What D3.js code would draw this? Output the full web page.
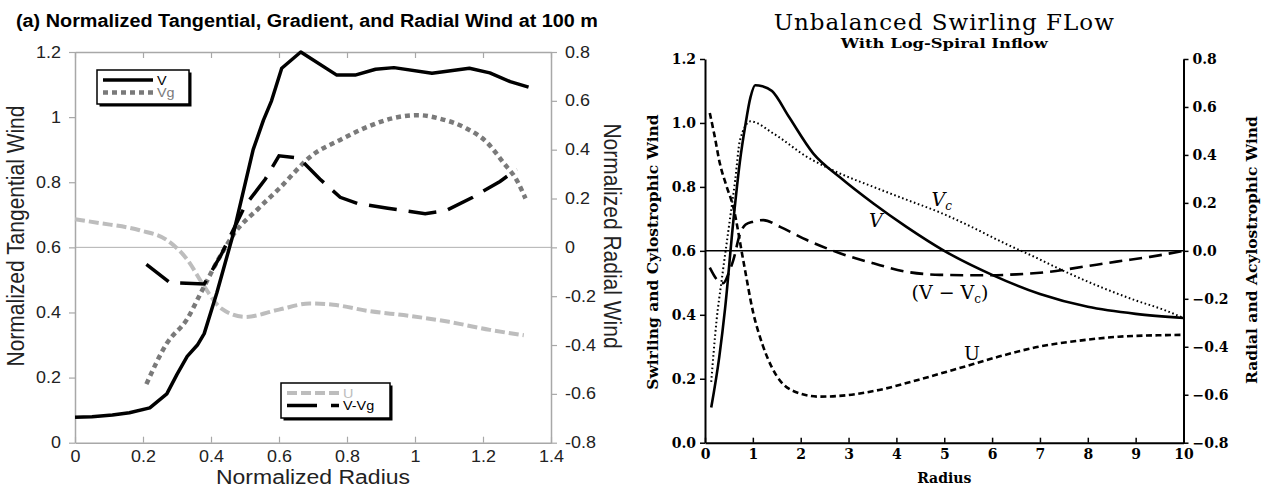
<!DOCTYPE html>
<html>
<head>
<meta charset="utf-8">
<script src="https://cdn.jsdelivr.net/npm/d3@7"></script>
<style>
  body { margin: 0; background: #fff; }
  svg { display: block; }
</style>
</head>
<body>
<svg id="chart" width="1265" height="489"></svg>
<script>
// ---- left panel data (x = normalized radius) ----
var leftV = [[0,0.078],[0.05,0.08],[0.11,0.085],[0.16,0.092],[0.22,0.107],[0.27,0.15],[0.3,0.21],[0.33,0.265],[0.36,0.3],[0.38,0.335],[0.417,0.46],[0.466,0.643],[0.524,0.9],[0.554,0.99],[0.578,1.05],[0.608,1.15],[0.664,1.2],[0.77,1.129],[0.824,1.129],[0.884,1.147],[0.938,1.152],[1.05,1.135],[1.16,1.15],[1.22,1.136],[1.28,1.109],[1.334,1.092]];
var leftVg = [[0.21,0.18],[0.27,0.305],[0.33,0.38],[0.37,0.46],[0.42,0.56],[0.47,0.645],[0.54,0.72],[0.6,0.78],[0.7,0.885],[0.78,0.93],[0.86,0.97],[0.94,0.998],[1.01,1.006],[1.07,0.996],[1.15,0.966],[1.21,0.924],[1.26,0.86],[1.3,0.805],[1.325,0.75]];
var leftU = [[0,0.115],[0.07,0.1],[0.19,0.07],[0.27,0.03],[0.33,-0.05],[0.38,-0.16],[0.43,-0.25],[0.5,-0.285],[0.6,-0.255],[0.69,-0.23],[0.76,-0.235],[0.86,-0.26],[0.98,-0.28],[1.1,-0.305],[1.22,-0.338],[1.32,-0.36]];
var leftVVg = [[0.21,-0.07],[0.28,-0.145],[0.38,-0.15],[0.43,-0.03],[0.5,0.17],[0.56,0.28],[0.6,0.375],[0.66,0.365],[0.72,0.28],[0.78,0.205],[0.83,0.18],[0.92,0.16],[1.03,0.138],[1.09,0.15],[1.17,0.205],[1.25,0.27],[1.3,0.32]];

var leftXTicks = [0,0.2,0.4,0.6,0.8,1,1.2,1.4];
var leftYTicks = [0,0.2,0.4,0.6,0.8,1,1.2];
var leftY2Ticks = [-0.8,-0.6,-0.4,-0.2,0,0.2,0.4,0.6,0.8];

// ---- right panel data (x = radius) ----
var rightV = [[0.13,0.11],[0.3,0.27],[0.42,0.42],[0.59,0.69],[0.73,0.88],[0.84,0.99],[0.95,1.08],[1.05,1.118],[1.2,1.115],[1.4,1.1],[1.75,1.02],[2.26,0.905],[2.82,0.83],[3.52,0.748],[4.21,0.675],[5.0,0.6],[6.0,0.525],[7.0,0.465],[8.0,0.425],[9.0,0.403],[10,0.39]];
var rightVc = [[0.13,0.19],[0.24,0.38],[0.35,0.51],[0.49,0.665],[0.63,0.82],[0.73,0.945],[0.95,1.005],[1.43,0.967],[2.13,0.894],[2.82,0.842],[3.52,0.8],[4.21,0.76],[4.91,0.72],[5.5,0.68],[6.2,0.628],[6.9,0.58],[7.6,0.53],[8.3,0.485],[9.0,0.445],[9.6,0.415],[10,0.39]];
var rightU = [[0.1,0.575],[0.2,0.48],[0.31,0.365],[0.45,0.27],[0.59,0.184],[0.8,-0.04],[1.01,-0.26],[1.2,-0.39],[1.39,-0.483],[1.8,-0.58],[2.39,-0.608],[2.8,-0.605],[3.64,-0.58],[4.47,-0.537],[5.3,-0.49],[6.14,-0.441],[6.97,-0.4],[7.8,-0.375],[8.64,-0.358],[9.47,-0.352],[10,-0.35]];
var rightVVc = [[0.1,-0.07],[0.25,-0.12],[0.38,-0.135],[0.5,-0.09],[0.59,-0.04],[0.73,0.07],[0.85,0.11],[1.01,0.122],[1.22,0.128],[1.57,0.1],[2.13,0.045],[2.82,-0.01],[3.52,-0.052],[4.21,-0.087],[4.91,-0.1],[5.82,-0.102],[6.51,-0.098],[7.21,-0.087],[7.91,-0.066],[8.6,-0.045],[9.3,-0.025],[10,0]];

var rightXTicks = [0,1,2,3,4,5,6,7,8,9,10];
var rightYTicks = [0,0.2,0.4,0.6,0.8,1.0,1.2];
var rightY2Ticks = [-0.8,-0.6,-0.4,-0.2,0,0.2,0.4,0.6,0.8];

var svg = d3.select("#chart");

// widen a text horizontally (the scanned figure is a bit stretched)
function stretch(sel, k) {
    sel.each(function() {
        var w = this.getComputedTextLength();
        if (w > 0) d3.select(this).attr("textLength", w * k).attr("lengthAdjust", "spacingAndGlyphs");
    });
}

// ================= left panel =================
(function() {
    var sans = "'Liberation Sans', Arial, sans-serif";
    var frame = "#a8a8a8";
    var x = d3.scaleLinear().domain([0, 1.4]).range([75, 551]);
    var y = d3.scaleLinear().domain([0, 1.2]).range([442.7, 52]);
    var y2 = d3.scaleLinear().domain([-0.8, 0.8]).range([442.7, 52]);
    var g = svg.append("g");
    var fmt = function(d) { return String(Math.round(d * 10) / 10); };

    g.append("text").attr("x", 16).attr("y", 27)
        .attr("font-family", sans).attr("font-weight", "bold").attr("font-size", 18)
        .attr("textLength", 582).attr("lengthAdjust", "spacingAndGlyphs")
        .text("(a) Normalized Tangential, Gradient, and Radial Wind at 100 m");

    // zero line of the radial axis
    g.append("line").attr("x1", x(0)).attr("x2", x(1.4))
        .attr("y1", y2(0)).attr("y2", y2(0)).attr("stroke", "#b0b0b0").attr("stroke-width", 1);

    var styleAxis = function(sel) {
        sel.select(".domain").attr("stroke", frame).attr("stroke-width", 1.5);
        sel.selectAll(".tick line").attr("stroke", frame).attr("stroke-width", 1.2);
        sel.selectAll("text").attr("font-family", sans).attr("font-size", 16).attr("fill", "#222")
            .call(stretch, 1.12);
    };

    g.append("g").attr("transform", "translate(0," + y(0) + ")")
        .call(d3.axisBottom(x).tickValues(leftXTicks).tickFormat(fmt).tickSizeInner(-6).tickSizeOuter(0).tickPadding(8))
        .call(styleAxis);
    g.append("g").attr("transform", "translate(0," + y(1.2) + ")")
        .call(d3.axisTop(x).tickValues(leftXTicks).tickFormat("").tickSizeInner(-6).tickSizeOuter(0))
        .call(styleAxis);
    g.append("g").attr("transform", "translate(" + x(0) + ",0)")
        .call(d3.axisLeft(y).tickValues(leftYTicks).tickFormat(fmt).tickSizeInner(6).tickSizeOuter(0).tickPadding(8))
        .call(styleAxis);
    g.append("g").attr("transform", "translate(" + x(1.4) + ",0)")
        .call(d3.axisRight(y2).tickValues(leftY2Ticks).tickFormat(fmt).tickSizeInner(6).tickSizeOuter(0).tickPadding(8))
        .call(styleAxis);

    g.append("text").attr("x", (x(0) + x(1.4)) / 2).attr("y", 484)
        .attr("text-anchor", "middle").attr("font-family", sans).attr("font-size", 20).attr("fill", "#222")
        .attr("textLength", 194).attr("lengthAdjust", "spacingAndGlyphs")
        .text("Normalized Radius");
    g.append("text").attr("transform", "translate(24,236) scale(1.1,1) rotate(-90)")
        .attr("text-anchor", "middle").attr("font-family", sans).attr("font-size", 21).attr("fill", "#222")
        .text("Normalized Tangential Wind");
    g.append("text").attr("transform", "translate(604,236) scale(1.1,1) rotate(90)")
        .attr("text-anchor", "middle").attr("font-family", sans).attr("font-size", 21).attr("fill", "#222")
        .text("Normalized Radial Wind");

    var lineL = d3.line().x(function(d) { return x(d[0]); }).y(function(d) { return y(d[1]); });
    var lineR = d3.line().x(function(d) { return x(d[0]); }).y(function(d) { return y2(d[1]); });

    g.append("path").datum(leftU).attr("d", lineR.curve(d3.curveMonotoneX))
        .attr("fill", "none").attr("stroke", "#bdbdbd").attr("stroke-width", 4).attr("stroke-dasharray", "10 4");
    g.append("path").datum(leftVg).attr("d", lineL.curve(d3.curveMonotoneX))
        .attr("fill", "none").attr("stroke", "#7a7a7a").attr("stroke-width", 4.5).attr("stroke-dasharray", "5 4");
    g.append("path").datum(leftVVg).attr("d", lineR.curve(d3.curveLinear))
        .attr("fill", "none").attr("stroke", "#000").attr("stroke-width", 3.5).attr("stroke-dasharray", "28 12");
    g.append("path").datum(leftV).attr("d", lineL.curve(d3.curveLinear))
        .attr("fill", "none").attr("stroke", "#000").attr("stroke-width", 3.5).attr("stroke-linejoin", "round");

    // legends with drop shadow
    var legend = function(bx, by, bw, bh, items) {
        g.append("rect").attr("x", bx + 2.5).attr("y", by + 2.5).attr("width", bw).attr("height", bh).attr("fill", "#000");
        g.append("rect").attr("x", bx).attr("y", by).attr("width", bw).attr("height", bh)
            .attr("fill", "#fff").attr("stroke", "#000").attr("stroke-width", 1.5);
        items.forEach(function(it, i) {
            var ly = by + 10 + i * 12.5;
            g.append("line").attr("x1", bx + 6).attr("x2", bx + 6 + it.len).attr("y1", ly).attr("y2", ly)
                .attr("stroke", it.color).attr("stroke-width", it.w).attr("stroke-dasharray", it.dash);
            g.append("text").attr("x", bx + 6 + it.len + 4).attr("y", ly + 4.5)
                .attr("font-family", sans).attr("font-size", 12.5).attr("fill", it.text)
                .text(it.label).call(stretch, 1.15);
        });
    };
    legend(97, 70, 92, 34, [
        {label: "V", color: "#000", text: "#000", w: 3.5, dash: null, len: 50},
        {label: "Vg", color: "#7a7a7a", text: "#7a7a7a", w: 4.5, dash: "5 4", len: 50}
    ]);
    legend(281, 383, 109, 35, [
        {label: "U", color: "#bdbdbd", text: "#bdbdbd", w: 4, dash: "10 4", len: 52},
        {label: "V-Vg", color: "#000", text: "#000", w: 3.5, dash: "30 14", len: 52}
    ]);
})();

// ================= right panel =================
(function() {
    var serif = "'DejaVu Serif', 'Liberation Serif', serif";
    var x = d3.scaleLinear().domain([0, 10]).range([705, 1183.5]);
    var y = d3.scaleLinear().domain([0, 1.2]).range([442.7, 59]);
    var y2 = d3.scaleLinear().domain([-0.8, 0.8]).range([442.7, 59]);
    var g = svg.append("g");
    var fmt = d3.format(".1f");

    g.append("text").attr("x", (x(0) + x(10)) / 2).attr("y", 30)
        .attr("text-anchor", "middle").attr("font-family", serif).attr("font-size", 23).attr("letter-spacing", 1)
        .text("Unbalanced Swirling FLow");
    g.append("text").attr("x", (x(0) + x(10)) / 2).attr("y", 48)
        .attr("text-anchor", "middle").attr("font-family", serif).attr("font-weight", "bold").attr("font-size", 13.5)
        .attr("textLength", 207).attr("lengthAdjust", "spacingAndGlyphs")
        .text("With Log-Spiral Inflow");

    var styleAxis = function(sel) {
        sel.select(".domain").attr("stroke", "#000").attr("stroke-width", 2);
        sel.selectAll(".tick line").attr("stroke", "#000").attr("stroke-width", 1.5);
        sel.selectAll("text").attr("font-family", serif).attr("font-weight", "bold").attr("font-size", 14).attr("fill", "#000");
    };

    g.append("line").attr("x1", x(0)).attr("x2", x(10))
        .attr("y1", y2(0)).attr("y2", y2(0)).attr("stroke", "#000").attr("stroke-width", 1.5);

    g.append("g").attr("transform", "translate(0," + y(0) + ")")
        .call(d3.axisBottom(x).tickValues(rightXTicks).tickFormat(d3.format("d")).tickSizeInner(-5).tickSizeOuter(0).tickPadding(6))
        .call(styleAxis);
    g.append("g").attr("transform", "translate(" + x(0) + ",0)")
        .call(d3.axisLeft(y).tickValues(rightYTicks).tickFormat(fmt).tickSizeInner(5).tickSizeOuter(0).tickPadding(4))
        .call(styleAxis);
    g.append("g").attr("transform", "translate(" + x(10) + ",0)")
        .call(d3.axisRight(y2).tickValues(rightY2Ticks).tickFormat(fmt).tickSizeInner(5).tickSizeOuter(0).tickPadding(4))
        .call(styleAxis);

    g.append("text").attr("x", (x(0) + x(10)) / 2).attr("y", 483)
        .attr("text-anchor", "middle").attr("font-family", serif).attr("font-weight", "bold").attr("font-size", 14)
        .text("Radius");
    g.append("text").attr("transform", "translate(658,252) rotate(-90)")
        .attr("text-anchor", "middle").attr("font-family", serif).attr("font-weight", "bold").attr("font-size", 15.5)
        .text("Swirling and Cylostrophic Wind");
    g.append("text").attr("transform", "translate(1257,250) rotate(-90)")
        .attr("text-anchor", "middle").attr("font-family", serif).attr("font-weight", "bold").attr("font-size", 15.5)
        .text("Radial and Acylostrophic Wind");

    var lineL = d3.line().curve(d3.curveMonotoneX).x(function(d) { return x(d[0]); }).y(function(d) { return y(d[1]); });
    var lineR = d3.line().curve(d3.curveMonotoneX).x(function(d) { return x(d[0]); }).y(function(d) { return y2(d[1]); });

    g.append("path").datum(rightVc).attr("d", lineL)
        .attr("fill", "none").attr("stroke", "#000").attr("stroke-width", 2).attr("stroke-dasharray", "1.6 2.6");
    g.append("path").datum(rightU).attr("d", lineR)
        .attr("fill", "none").attr("stroke", "#000").attr("stroke-width", 2.6).attr("stroke-dasharray", "6 3.5");
    g.append("path").datum(rightVVc).attr("d", lineR)
        .attr("fill", "none").attr("stroke", "#000").attr("stroke-width", 2.6).attr("stroke-dasharray", "13 7");
    g.append("path").datum(rightV).attr("d", lineL)
        .attr("fill", "none").attr("stroke", "#000").attr("stroke-width", 2.6);

    // curve labels
    var lab = function(px, py, parts, italic) {
        var t = g.append("text").attr("x", x(px)).attr("y", y(py))
            .attr("text-anchor", "middle").attr("font-family", serif).attr("font-size", 19)
            .attr("font-style", italic ? "italic" : "normal");
        parts.forEach(function(p) {
            var s = t.append("tspan").text(p[0]);
            if (p[1]) s.attr("font-size", 12).attr("dy", 4);
            else if (p[2]) s.attr("dy", -4);
        });
    };
    lab(3.57, 0.675, [["V"]], true);
    lab(4.95, 0.74, [["V"], ["c", true]], true);
    lab(5.12, 0.45, [["(V − V"], ["c", true], [")", false, true]], false);
    lab(5.58, 0.26, [["U"]], false);
})();
</script>
</body>
</html>
